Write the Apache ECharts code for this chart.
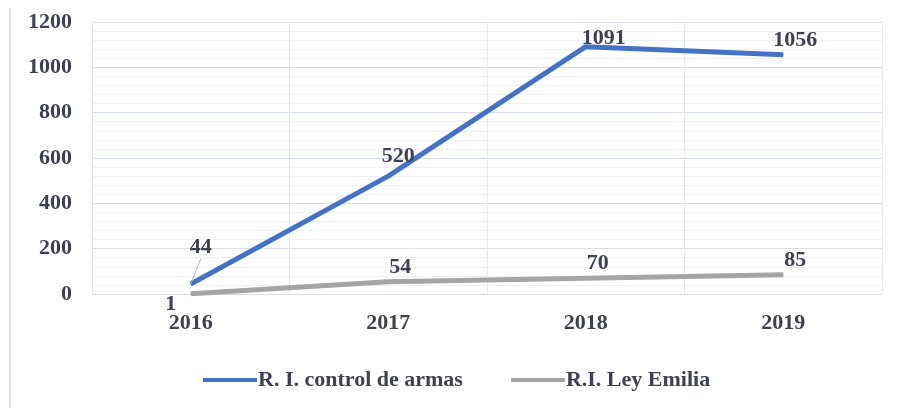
<!DOCTYPE html>
<html>
<head>
<meta charset="utf-8">
<script src="https://cdn.jsdelivr.net/npm/echarts@6/dist/echarts.min.js"></script>
<style>
  html, body { margin: 0; padding: 0; background: #fff; }
  #chart { width: 903px; height: 408px; }
</style>
</head>
<body>
<div id="chart"></div>
<script>
// datos
var years = ['2016', '2017', '2018', '2019'];
var armas = [44, 520, 1091, 1056];
var emilia = [1, 54, 70, 85];
var yTicks = { min: 0, max: 1200, step: 200 };

var txt = '#3d4152';
var font = 'Liberation Serif';
var fs = 22;

// desplazamiento de etiquetas como en el original
var armasShift = [[10, -20], [10, -3], [18, 8], [12, 2]];

var chart = echarts.init(document.getElementById('chart'));

// solo la primera etiqueta lleva línea guía
var armasData = armas.map(function (v, i) {
  return { value: v, labelLine: { show: i === 0 } };
});
var emiliaData = emilia.map(function (v, i) {
  if (i === 0) {
    return { value: v, label: { position: 'bottom', offset: [-20, -6] } };
  }
  return v;
});

chart.setOption({
  animation: false,
  textStyle: { fontFamily: font },
  graphic: [{
    type: 'line',
    shape: { x1: 10, y1: 8, x2: 10, y2: 408 },
    style: { stroke: '#dfe3ea', lineWidth: 2 }
  }],
  grid: { left: 92, right: 21, top: 22, bottom: 114 },
  legend: {
    bottom: 12,
    left: 198,
    icon: 'rect',
    itemWidth: 54,
    itemHeight: 4,
    itemGap: 48,
    textStyle: { fontFamily: font, fontSize: fs, fontWeight: 'bold', color: txt, padding: [0, 0, 0, -4] },
    data: ['R. I. control de armas', 'R.I. Ley Emilia']
  },
  xAxis: [{
    type: 'category',
    data: years,
    boundaryGap: true,
    axisLine: { show: true, lineStyle: { color: '#d9dee8' } },
    axisTick: { show: false },
    axisLabel: { fontFamily: font, fontSize: fs, fontWeight: 'bold', color: txt, margin: 18 },
    splitLine: { show: true, lineStyle: { color: '#d9dee8' } }
  }, {
    type: 'category',
    data: years,
    boundaryGap: false,
    position: 'bottom',
    axisLine: { show: false },
    axisTick: { show: false },
    axisLabel: { show: false },
    splitLine: { show: true, lineStyle: { color: '#e6e9ef' } },
    min: -0.5,
    max: 3.5
  }],
  yAxis: {
    type: 'value',
    min: yTicks.min,
    max: yTicks.max,
    interval: yTicks.step,
    axisLine: { show: false },
    axisTick: { show: false },
    axisLabel: {
      fontFamily: font, fontSize: fs, fontWeight: 'bold', color: txt, margin: 20,
      formatter: function (v) { return String(v); }
    },
    splitLine: { lineStyle: { color: '#d9dee8' } },
    minorTick: { show: false, splitNumber: 5 },
    minorSplitLine: { show: true, lineStyle: { color: '#eef0f4' } }
  },
  series: [{
    name: 'R. I. control de armas',
    type: 'line',
    data: armasData,
    symbol: 'circle',
    symbolSize: 1,
    showSymbol: true,
    lineStyle: { color: '#4472c4', width: 5 },
    itemStyle: { color: '#4472c4' },
    label: {
      show: true, position: 'top',
      fontFamily: font, fontSize: fs, fontWeight: 'bold', color: txt
    },
    labelLayout: function (p) {
      var s = armasShift[p.dataIndex];
      return { dx: s[0], dy: s[1] };
    },
    labelLine: { show: false, lineStyle: { color: '#aab6cc', width: 1 } }
  }, {
    name: 'R.I. Ley Emilia',
    type: 'line',
    data: emiliaData,
    symbol: 'circle',
    symbolSize: 1,
    showSymbol: true,
    lineStyle: { color: '#a5a5a5', width: 5 },
    itemStyle: { color: '#a5a5a5' },
    label: {
      show: true, position: 'top', offset: [12, 2],
      fontFamily: font, fontSize: fs, fontWeight: 'bold', color: txt
    }
  }]
});
</script>
</body>
</html>
